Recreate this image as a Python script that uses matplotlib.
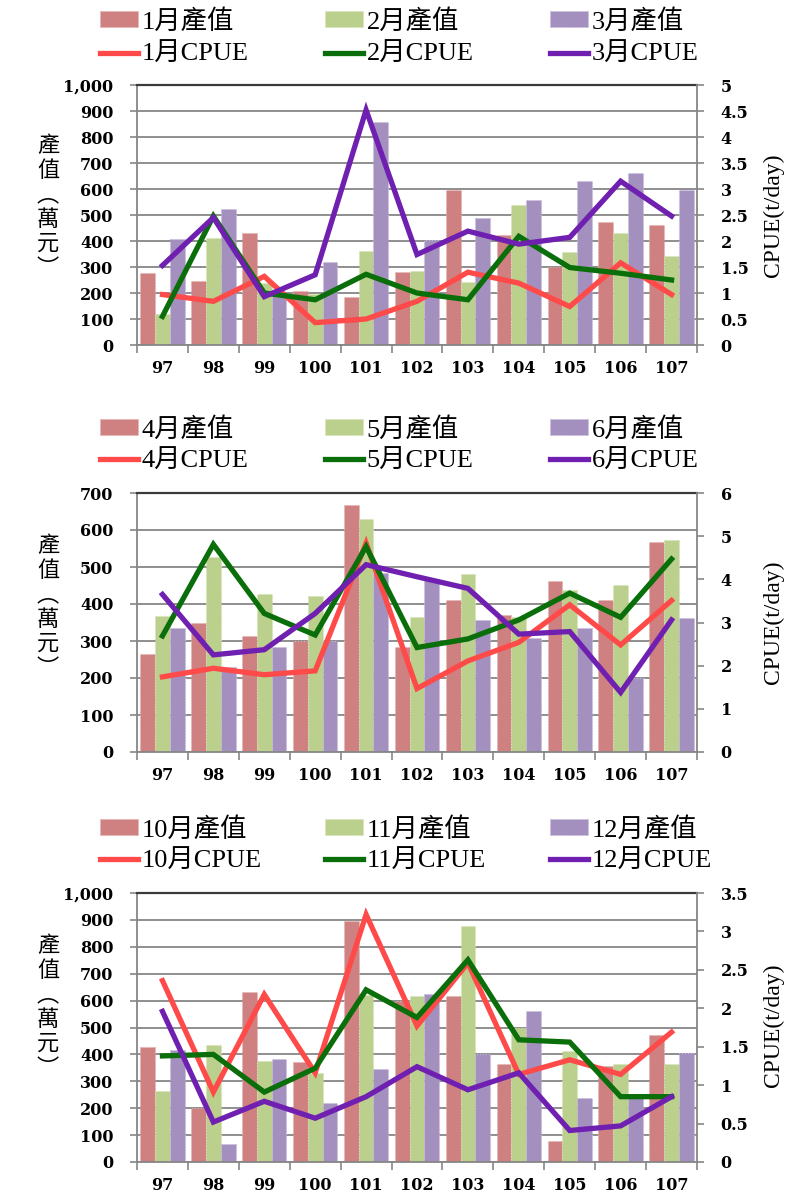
import matplotlib
matplotlib.use('Agg')
import matplotlib.pyplot as plt
import numpy as np
from matplotlib.ticker import FixedLocator, FuncFormatter
from matplotlib.patches import Patch
from matplotlib.lines import Line2D

# ---------------- data ----------------
years = ['97', '98', '99', '100', '101', '102', '103', '104', '105', '106', '107']

# panel 1 : Jan / Feb / Mar
val_1 = [277, 245, 430, 208, 184, 279, 595, 425, 300, 472, 461]
val_2 = [120, 413, 240, 195, 363, 286, 243, 537, 356, 429, 344]
val_3 = [407, 524, 205, 318, 858, 405, 489, 559, 632, 660, 598]
cpue_1 = [0.97, 0.84, 1.32, 0.43, 0.50, 0.84, 1.40, 1.19, 0.74, 1.58, 0.97]
cpue_2 = [0.55, 2.48, 1.00, 0.87, 1.36, 1.00, 0.87, 2.09, 1.49, 1.38, 1.25]
cpue_3 = [1.53, 2.45, 0.93, 1.35, 4.52, 1.74, 2.19, 1.94, 2.07, 3.15, 2.48]

# panel 2 : Apr / May / Jun
val_4 = [266, 348, 314, 301, 667, 283, 411, 370, 461, 411, 567]
val_5 = [367, 528, 427, 422, 630, 366, 480, 364, 439, 452, 574]
val_6 = [334, 231, 285, 301, 485, 468, 357, 307, 335, 200, 361]
cpue_4 = [1.74, 1.94, 1.79, 1.88, 4.84, 1.47, 2.11, 2.54, 3.41, 2.48, 3.51]
cpue_5 = [2.69, 4.81, 3.21, 2.71, 4.76, 2.42, 2.62, 3.06, 3.68, 3.12, 4.47]
cpue_6 = [3.65, 2.25, 2.37, 3.21, 4.34, 4.06, 3.79, 2.73, 2.79, 1.38, 3.06]

# panel 3 : Oct / Nov / Dec
val_10 = [426, 201, 631, 372, 897, 600, 616, 366, 77, 358, 471]
val_11 = [265, 436, 374, 331, 620, 616, 876, 498, 411, 366, 366]
val_12 = [418, 67, 383, 219, 346, 625, 401, 560, 238, 245, 405]
cpue_10 = [2.36, 0.91, 2.18, 1.16, 3.22, 1.77, 2.59, 1.14, 1.33, 1.14, 1.69]
cpue_11 = [1.38, 1.40, 0.91, 1.22, 2.24, 1.88, 2.63, 1.59, 1.56, 0.85, 0.85]
cpue_12 = [1.96, 0.52, 0.79, 0.57, 0.85, 1.24, 0.94, 1.16, 0.41, 0.47, 0.85]

months_1 = ['1月', '2月', '3月']
months_2 = ['4月', '5月', '6月']
months_3 = ['10月', '11月', '12月']

left_label = '產\n值\n︵\n萬\n元\n︶'
right_label = 'CPUE(t/day)'

# ---------------- style ----------------
bar_colors = ['#CF8080', '#BBD08C', '#A390BF']
bar_edges = ['#E3AFAF', '#D6E3B5', '#C7BBDB']
line_colors = ['#FF4A4A', '#0A6E0A', '#7020B0']
grid_color = '#8E8E8E'
spine_color = '#868686'

W, H = 806, 1198
fig = plt.figure(figsize=(W / 100, H / 100), dpi=100)


def fx(px):
    return px / W


def fy(py):
    return 1 - py / H


tick_font = dict(family='DejaVu Serif', weight='bold', size=11.5)
legend_family = ['Liberation Serif', 'Noto Sans CJK TC']

panels = [
    dict(top=85, bot=345, ymax=1000, y2max=5.0, y2ticks=np.arange(0, 5.01, 0.5),
         bars=(val_1, val_2, val_3), lines=(cpue_1, cpue_2, cpue_3), months=months_1,
         leg_top=9, leg_sp=0.36, ylab_y=207, y2lab_y=215),
    dict(top=493, bot=752, ymax=700, y2max=6.0, y2ticks=np.arange(0, 6.01, 1.0),
         bars=(val_4, val_5, val_6), lines=(cpue_4, cpue_5, cpue_6), months=months_2,
         leg_top=417, leg_sp=0.29, ylab_y=607, y2lab_y=622),
    dict(top=893, bot=1162, ymax=1000, y2max=3.5, y2ticks=np.arange(0, 3.51, 0.5),
         bars=(val_10, val_11, val_12), lines=(cpue_10, cpue_11, cpue_12), months=months_3,
         leg_top=817, leg_sp=0.29, ylab_y=1007, y2lab_y=1025),
]

L, R = 137, 697
x = np.arange(len(years))
bw = 0.29

for p in panels:
    ax = fig.add_axes([fx(L), fy(p['bot']), (R - L) / W, (p['bot'] - p['top']) / H])
    ax2 = ax.twinx()

    for k in range(3):
        ax.bar(x + (k - 1) * bw, p['bars'][k], width=bw, color=bar_colors[k],
               edgecolor=bar_edges[k], linewidth=0.8, linestyle=':', zorder=2)
        ax2.plot(x, p['lines'][k], color=line_colors[k], lw=3.8, zorder=3,
                 solid_joinstyle='miter')

    ax.set_xlim(-0.5, len(years) - 0.5)
    ax.set_ylim(0, p['ymax'])
    ax2.set_ylim(0, p['y2max'])

    ax.yaxis.set_major_locator(FixedLocator(np.arange(0, p['ymax'] + 1, 100)))
    ax.yaxis.set_major_formatter(FuncFormatter(lambda v, pos: f'{v:,.0f}'))
    ax2.yaxis.set_major_locator(FixedLocator(p['y2ticks']))
    ax2.yaxis.set_major_formatter(FuncFormatter(lambda v, pos: f'{v:g}'))

    ax.set_xticks(x)
    ax.set_xticklabels(years)
    ax.set_xticks(np.arange(-0.5, len(years), 1.0), minor=True)
    ax.tick_params(axis='x', which='major', length=0, pad=11)
    ax.tick_params(axis='x', which='minor', length=6, width=1.2, color=spine_color,
                   direction='out')
    ax.tick_params(axis='y', length=5, width=1.2, color=spine_color, pad=12)
    ax2.tick_params(axis='y', length=5, width=1.2, color=spine_color, pad=12)
    for lab in ax.get_xticklabels() + ax.get_yticklabels() + ax2.get_yticklabels():
        lab.set_fontfamily(tick_font['family'])
        lab.set_fontweight(tick_font['weight'])
        lab.set_fontsize(tick_font['size'])

    ax.yaxis.grid(True, color=grid_color, lw=1.4, zorder=0)
    ax.set_axisbelow(True)

    for s in ['left', 'bottom']:
        ax.spines[s].set_color(spine_color)
        ax.spines[s].set_linewidth(1.3)
    ax.spines['top'].set_color('#3A3A3A')
    ax.spines['top'].set_linewidth(1.6)
    ax.spines['right'].set_visible(False)
    for s in ['left', 'bottom', 'top']:
        ax2.spines[s].set_visible(False)
    ax2.spines['right'].set_color(spine_color)
    ax2.spines['right'].set_linewidth(1.3)

    # legend, one column per month
    col_x = [100, 325, 550]
    for k in range(3):
        hb = Patch(facecolor=bar_colors[k], edgecolor=bar_edges[k], linewidth=0.8,
                   linestyle=':')
        hl = Line2D([], [], color=line_colors[k], lw=3.8)
        fig.legend([hb, hl], [p['months'][k] + '產值', p['months'][k] + 'CPUE'],
                   loc='upper left', bbox_to_anchor=(fx(col_x[k]), fy(p['leg_top'])),
                   bbox_transform=fig.transFigure, frameon=False, borderpad=0,
                   borderaxespad=0, handlelength=1.45, handleheight=0.55,
                   handletextpad=0.12, labelspacing=p['leg_sp'],
                   prop=dict(family=legend_family, size=19))

    fig.text(fx(48), fy(p['ylab_y']), left_label, ha='center', va='center',
             fontsize=16, family=['Noto Sans CJK TC', 'DejaVu Sans'], linespacing=1.08)
    fig.text(fx(773), fy(p['y2lab_y']), right_label, ha='center', va='center',
             rotation=90, fontsize=17, family='Liberation Serif')

fig.savefig('out.png', dpi=100)
